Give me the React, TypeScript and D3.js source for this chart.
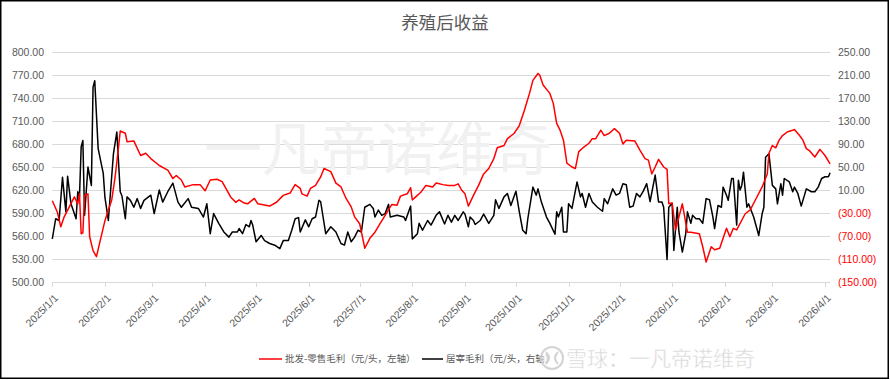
import React from "react";
import * as d3 from "d3";

const TITLE = "养殖后收益";
const RED_NAME = "批发-零售毛利（元/头，左轴）";
const BLACK_NAME = "居宰毛利（元/头，右轴）";

const leftTicks = [500, 530, 560, 590, 620, 650, 680, 710, 740, 770, 800];
const rightTicks = [-150, -110, -70, -30, 10, 50, 90, 130, 170, 210, 250];

const redDates = [
  "2025-01-01","2025-01-04","2025-01-06","2025-01-08","2025-01-11","2025-01-14","2025-01-16","2025-01-17","2025-01-18","2025-01-19",
  "2025-01-20","2025-01-22","2025-01-23","2025-01-25","2025-01-27","2025-01-29","2025-02-01","2025-02-03","2025-02-05","2025-02-07",
  "2025-02-09","2025-02-10","2025-02-13","2025-02-14","2025-02-18","2025-02-22","2025-02-25","2025-02-28","2025-03-05","2025-03-10",
  "2025-03-13","2025-03-15","2025-03-18","2025-03-20","2025-03-25","2025-03-29","2025-04-01","2025-04-04","2025-04-08","2025-04-11",
  "2025-04-16","2025-04-19","2025-04-21","2025-04-24","2025-04-26","2025-04-30","2025-05-02","2025-05-09","2025-05-13","2025-05-17",
  "2025-05-21","2025-05-24","2025-05-27","2025-05-28","2025-05-31","2025-06-02","2025-06-05","2025-06-08","2025-06-10","2025-06-14",
  "2025-06-17","2025-06-20","2025-06-23","2025-06-26","2025-06-28","2025-07-01","2025-07-03","2025-07-04","2025-07-07","2025-07-10",
  "2025-07-13","2025-07-16","2025-07-19","2025-07-20","2025-07-23","2025-07-25","2025-07-29","2025-07-31","2025-08-01","2025-08-03",
  "2025-08-06","2025-08-09","2025-08-13","2025-08-15","2025-08-19","2025-08-22","2025-08-26","2025-08-28","2025-08-30","2025-09-01",
  "2025-09-03","2025-09-06","2025-09-09","2025-09-12","2025-09-15","2025-09-18","2025-09-20","2025-09-24","2025-09-26","2025-09-30",
  "2025-10-03","2025-10-06","2025-10-09","2025-10-11","2025-10-14","2025-10-15","2025-10-17","2025-10-21","2025-10-23","2025-10-25",
  "2025-10-27","2025-10-29","2025-10-31","2025-11-03","2025-11-05","2025-11-07","2025-11-10","2025-11-13","2025-11-15","2025-11-17",
  "2025-11-20","2025-11-22","2025-11-25","2025-11-28","2025-12-01","2025-12-03","2025-12-05","2025-12-10","2025-12-13","2025-12-16",
  "2025-12-18","2025-12-20","2025-12-22","2025-12-24","2025-12-27","2025-12-29","2025-12-30","2026-01-01","2026-01-03","2026-01-05",
  "2026-01-07","2026-01-10","2026-01-12","2026-01-17","2026-01-19","2026-01-21","2026-01-24","2026-01-26","2026-01-29","2026-02-02",
  "2026-02-04","2026-02-06","2026-02-08","2026-02-13","2026-02-16","2026-02-19","2026-02-23","2026-02-26","2026-02-27","2026-03-01",
  "2026-03-03","2026-03-05","2026-03-07","2026-03-10","2026-03-13","2026-03-14","2026-03-17","2026-03-19","2026-03-21","2026-03-23",
  "2026-03-26","2026-03-29","2026-04-01","2026-04-04"
];
const redValues = [
  606,591,572,585,598,611,602,615,563,564,
  613,615,559,541,533,552,580,594,607,637,
  676,697,694,683,684,665,668,661,652,646,
  635,639,633,624,627,627,619,633,634,631,
  611,604,607,603,602,609,602,599,604,613,
  616,627,622,615,612,622,626,637,648,644,
  629,624,609,598,585,576,555,544,557,565,
  576,587,598,601,600,612,615,623,607,611,
  617,626,624,629,627,626,626,628,620,615,
  599,613,626,641,648,661,675,678,687,694,
  704,724,746,763,772,770,757,746,733,707,
  698,685,655,650,648,670,676,681,687,687,
  698,691,694,700,694,680,685,684,672,661,
  659,641,650,660,650,647,602,603,568,585,
  602,565,565,563,546,526,546,542,544,570,
  559,570,568,589,594,607,624,641,668,678,
  675,685,691,696,698,699,691,685,674,671,
  663,673,665,654
];

const blackDates = [
  "2025-01-01","2025-01-03","2025-01-05","2025-01-07","2025-01-09","2025-01-10","2025-01-12","2025-01-15","2025-01-16","2025-01-17",
  "2025-01-18","2025-01-19","2025-01-20","2025-01-22","2025-01-24","2025-01-25","2025-01-26","2025-01-28","2025-01-31","2025-02-01",
  "2025-02-03","2025-02-06","2025-02-08","2025-02-10","2025-02-11","2025-02-13","2025-02-14","2025-02-16","2025-02-18","2025-02-20",
  "2025-02-22","2025-02-24","2025-02-28","2025-03-02","2025-03-05","2025-03-07","2025-03-10","2025-03-13","2025-03-16","2025-03-18",
  "2025-03-22","2025-03-24","2025-03-28","2025-03-31","2025-04-02","2025-04-04","2025-04-06","2025-04-09","2025-04-12","2025-04-15",
  "2025-04-17","2025-04-20","2025-04-21","2025-04-23","2025-04-25","2025-04-27","2025-04-28","2025-04-29","2025-05-01","2025-05-04",
  "2025-05-06","2025-05-09","2025-05-12","2025-05-15","2025-05-17","2025-05-20","2025-05-22","2025-05-24","2025-05-26","2025-05-27",
  "2025-05-30","2025-06-01","2025-06-03","2025-06-05","2025-06-07","2025-06-08","2025-06-11","2025-06-14","2025-06-17","2025-06-20",
  "2025-06-22","2025-06-24","2025-06-26","2025-06-28","2025-06-30","2025-07-02","2025-07-04","2025-07-07","2025-07-09","2025-07-10",
  "2025-07-12","2025-07-14","2025-07-16","2025-07-18","2025-07-19","2025-07-23","2025-07-27","2025-07-28","2025-07-31","2025-08-01",
  "2025-08-04","2025-08-05","2025-08-07","2025-08-10","2025-08-12","2025-08-15","2025-08-17","2025-08-20","2025-08-22","2025-08-24",
  "2025-08-26","2025-08-28","2025-08-31","2025-09-01","2025-09-03","2025-09-04","2025-09-06","2025-09-07","2025-09-10","2025-09-12",
  "2025-09-13","2025-09-15","2025-09-18","2025-09-19","2025-09-21","2025-09-24","2025-09-26","2025-09-28","2025-10-01","2025-10-03",
  "2025-10-05","2025-10-07","2025-10-08","2025-10-11","2025-10-13","2025-10-14","2025-10-16","2025-10-19","2025-10-21","2025-10-24",
  "2025-10-25","2025-10-26","2025-10-28","2025-10-29","2025-10-31","2025-11-01","2025-11-03","2025-11-06","2025-11-08","2025-11-09",
  "2025-11-11","2025-11-13","2025-11-15","2025-11-18","2025-11-21","2025-11-22","2025-11-24","2025-11-27","2025-11-29","2025-12-01",
  "2025-12-03","2025-12-05","2025-12-07","2025-12-09","2025-12-11","2025-12-13","2025-12-15","2025-12-17","2025-12-19","2025-12-22",
  "2025-12-24","2025-12-26","2025-12-27","2025-12-29","2025-12-30","2026-01-01","2026-01-02","2026-01-04","2026-01-05","2026-01-07",
  "2026-01-09","2026-01-10","2026-01-12","2026-01-13","2026-01-15","2026-01-17","2026-01-19","2026-01-21","2026-01-23","2026-01-25",
  "2026-01-26","2026-01-28","2026-01-30","2026-01-31","2026-02-02","2026-02-03","2026-02-05","2026-02-06","2026-02-08","2026-02-09",
  "2026-02-10","2026-02-11","2026-02-12","2026-02-14","2026-02-15","2026-02-18","2026-02-21","2026-02-23","2026-02-24","2026-02-25",
  "2026-02-27","2026-03-01","2026-03-03","2026-03-04","2026-03-06","2026-03-07","2026-03-08","2026-03-11","2026-03-13","2026-03-14",
  "2026-03-16","2026-03-18","2026-03-21","2026-03-24","2026-03-26","2026-03-28","2026-03-30","2026-04-01","2026-04-03","2026-04-04"
];
const blackValues = [
  -75,-40,-43,32,-28,34,-14,-40,7,-2,
  85,96,-34,50,18,189,200,82,39,-3,
  -43,73,111,7,0,-40,-2,-8,-20,-5,
  -22,-8,1,-31,10,-11,7,22,-11,-20,
  -5,-20,-22,-37,-14,-66,-31,-48,-63,-72,
  -63,-63,-57,-66,-50,-54,-43,-51,-80,-69,
  -78,-83,-86,-92,-78,-78,-60,-40,-38,-63,
  -42,-54,-40,-37,-8,-10,-66,-54,-63,-83,
  -86,-63,-80,-72,-60,-63,-20,-15,-22,-37,
  -25,-34,-31,-15,-37,-34,-37,-43,-18,-75,
  -66,-48,-60,-43,-51,-34,-28,-49,-34,-46,
  -34,-43,-28,-32,-54,-37,-43,-50,-43,-32,
  -37,-48,-34,-7,-22,-2,4,-17,8,-28,
  -60,-66,-40,15,1,12,-11,-37,-48,-67,
  -28,-37,-20,-63,-63,-14,-22,24,-2,4,
  -20,4,-11,-20,-27,-5,-14,12,1,4,
  21,19,-20,-18,4,-2,8,21,-10,36,
  -11,-11,-20,-111,-20,-13,-95,-20,-63,-98,
  -66,-28,-48,-34,-40,-40,-48,-5,-7,-37,
  -57,-17,-20,15,1,-8,30,30,-51,27,
  10,18,41,-20,-14,-37,-69,-31,-20,67,
  73,18,12,-14,21,1,30,24,7,15,
  4,-18,12,7,7,15,30,33,33,40
];

const W = 890;
const H = 380;
const plotLeft = 52.3;
const plotRight = 830;
const plotTop = 52;
const plotBottom = 282;

const parse = d3.timeParse("%Y-%m-%d");
const fmtDate = d3.timeFormat("%Y/%-m/%-d");
const fmtNum = (v: number) => (v < 0 ? `(${Math.abs(v).toFixed(2)})` : v.toFixed(2));

export default function App() {
  const x = d3
    .scaleTime()
    .domain([parse("2025-01-01")!, parse("2026-04-01")!])
    .range([plotLeft, 825]);
  const yL = d3.scaleLinear().domain([500, 800]).range([plotBottom, plotTop]);
  const yR = d3.scaleLinear().domain([-150, 250]).range([plotBottom, plotTop]);

  const redData = redDates.map((d, i) => ({ date: parse(d)!, v: redValues[i] }));
  const blackData = blackDates.map((d, i) => ({ date: parse(d)!, v: blackValues[i] }));

  const redLine = d3
    .line<{ date: Date; v: number }>()
    .x((d) => x(d.date))
    .y((d) => yL(d.v));
  const blackLine = d3
    .line<{ date: Date; v: number }>()
    .x((d) => x(d.date))
    .y((d) => yR(d.v));

  const xTicks = d3.timeMonth.range(parse("2025-01-01")!, d3.timeDay.offset(parse("2026-04-01")!, 1));

  const axisFont = "'Liberation Sans', Arial, sans-serif";
  const cjkFont = "'Noto Sans CJK SC', 'Noto Sans', sans-serif";

  return (
    <svg
      width={W}
      height={H}
      style={{ position: "fixed", left: 0, top: 0, background: "#fff" }}
    >
      <rect x={0} y={0} width={W} height={H} fill="#fff" />
      <rect x={0.75} y={0.75} width={887.5} height={377.5} fill="none" stroke="#000" strokeWidth={1.5} />

      <text x={445} y={29} textAnchor="middle" fontFamily={cjkFont} fontSize={17.5} fill="#595959">
        {TITLE}
      </text>

      {/* gridlines */}
      {leftTicks.map((t) => (
        <line
          key={"g" + t}
          x1={plotLeft}
          x2={plotRight}
          y1={Math.round(yL(t)) + 0.5}
          y2={Math.round(yL(t)) + 0.5}
          stroke="#d9d9d9"
          strokeWidth={1}
        />
      ))}

      {/* x tick marks */}
      {xTicks.map((d, i) => (
        <line
          key={"xt" + i}
          x1={Math.round(x(d)) + 0.5}
          x2={Math.round(x(d)) + 0.5}
          y1={plotBottom}
          y2={plotBottom + 5}
          stroke="#d9d9d9"
        />
      ))}

      {/* big watermark */}
      <text x={378} y={170} textAnchor="middle" fontFamily={cjkFont} fontSize={58} fill="#f1f1f1">
        一凡帝诺维奇
      </text>

      {/* left labels */}
      {leftTicks.map((t) => (
        <text
          key={"l" + t}
          x={44}
          y={yL(t)}
          dy="0.35em"
          textAnchor="end"
          fontFamily={axisFont}
          fontSize={10.5}
          fill="#595959"
        >
          {t.toFixed(2)}
        </text>
      ))}

      {/* right labels */}
      {rightTicks.map((t) => (
        <text
          key={"r" + t}
          x={838}
          y={yR(t)}
          dy="0.35em"
          textAnchor="start"
          fontFamily={axisFont}
          fontSize={10.5}
          fill={t < 0 ? "#ff0000" : "#595959"}
        >
          {fmtNum(t)}
        </text>
      ))}

      {/* x labels */}
      {xTicks.map((d, i) => (
        <text
          key={"xl" + i}
          transform={`translate(${x(d) + 4},${plotBottom + 14}) rotate(-45)`}
          textAnchor="end"
          dy="0.35em"
          fontFamily={axisFont}
          fontSize={10.5}
          fill="#595959"
        >
          {fmtDate(d)}
        </text>
      ))}

      <path d={blackLine(blackData) || ""} fill="none" stroke="#000" strokeWidth={1.5} strokeLinejoin="round" />
      <path d={redLine(redData) || ""} fill="none" stroke="#ff0000" strokeWidth={1.5} strokeLinejoin="round" />

      {/* legend */}
      <line x1={259} x2={282} y1={359} y2={359} stroke="#ff0000" strokeWidth={1.5} />
      <text x={285} y={359} dy="0.35em" fontFamily={cjkFont} fontSize={9.5} fill="#595959">
        {RED_NAME}
      </text>
      <line x1={422} x2={443} y1={359} y2={359} stroke="#000" strokeWidth={1.5} />
      <text x={446} y={359} dy="0.35em" fontFamily={cjkFont} fontSize={9.5} fill="#595959">
        {BLACK_NAME}
      </text>

      {/* bottom-right watermark */}
      <g opacity={0.9}>
        <circle cx={552} cy={358} r={11} fill="#fff" fillOpacity={0.6} stroke="#cfcfcf" strokeWidth={2} />
        <path d="M546,352 Q552,358 546,364 M558,352 Q552,358 558,364" fill="none" stroke="#cfcfcf" strokeWidth={2} />
        <text x={566} y={366} fontFamily={cjkFont} fontSize={21} fill="#d2d2d2" stroke="#fff" strokeWidth={0.5}>
          雪球：一凡帝诺维奇
        </text>
      </g>
    </svg>
  );
}
